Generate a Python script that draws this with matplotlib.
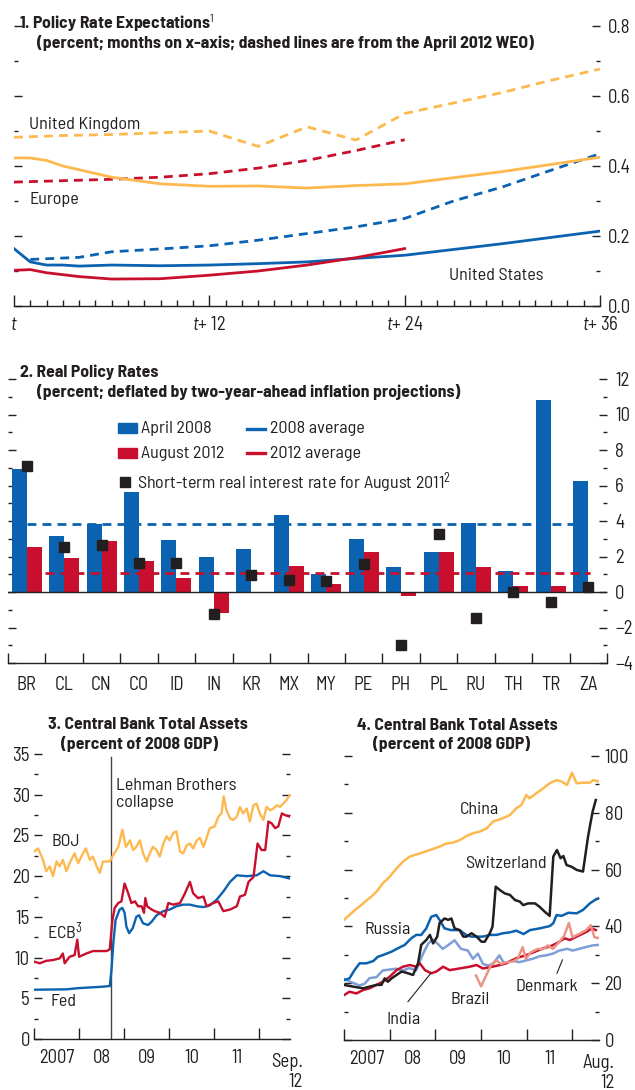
import matplotlib
matplotlib.use('Agg')
import matplotlib.pyplot as plt
import numpy as np
from matplotlib import font_manager as fm
from matplotlib.ticker import MultipleLocator, FixedLocator, NullFormatter, FormatStrFormatter
from matplotlib.patches import Rectangle
from matplotlib.lines import Line2D

_avail = {f.name for f in fm.fontManager.ttflist}
_prefs = ['Barlow Semi Condensed', 'Barlow Condensed', 'Encode Sans Semi Condensed', 'Liberation Sans Narrow']
FONT = next((p for p in _prefs if p in _avail), 'DejaVu Sans')
plt.rcParams['font.family'] = [FONT, 'DejaVu Sans']
plt.rcParams['mathtext.fontset'] = 'custom'
plt.rcParams['mathtext.rm'] = FONT
plt.rcParams['mathtext.it'] = FONT + ':italic'
plt.rcParams['mathtext.bf'] = FONT + ':bold'
plt.rcParams['axes.unicode_minus'] = True

# ---------------- colours ----------------
BLUE = '#0b62b0'
RED = '#c8102e'
ORANGE = '#fdb94f'
LBLUE = '#7e9ed8'
SALMON = '#eb9486'
BLACK = '#231f20'
TXT = '#231f20'

# ---------------- panel 1 data ----------------
uk_apr_m = [0, 3, 6, 9, 12, 15, 18, 21, 24, 27, 30, 33, 36]
uk_apr = [0.482, 0.487, 0.490, 0.495, 0.500, 0.456, 0.512, 0.474, 0.550, 0.580, 0.610, 0.645, 0.677]
uk_now_m = [0, 1, 2, 3, 6, 9, 12, 15, 18, 21, 24, 30, 36]
uk_now = [0.423, 0.423, 0.416, 0.400, 0.368, 0.349, 0.342, 0.343, 0.337, 0.344, 0.349, 0.384, 0.425]
eu_apr_m = [0, 3, 6, 9, 12, 15, 18, 21, 24]
eu_apr = [0.354, 0.358, 0.362, 0.368, 0.378, 0.394, 0.416, 0.444, 0.475]
eu_now_m = [0, 1, 2, 4, 6, 9, 12, 15, 18, 21, 24]
eu_now = [0.102, 0.104, 0.095, 0.084, 0.077, 0.078, 0.088, 0.100, 0.117, 0.138, 0.164]
us_apr_m = [1, 4, 6, 9, 12, 15, 18, 21, 24, 27, 30, 33, 36]
us_apr = [0.133, 0.139, 0.155, 0.163, 0.172, 0.188, 0.207, 0.226, 0.250, 0.300, 0.340, 0.388, 0.435]
us_now_m = [0, 1, 2, 3, 4, 6, 9, 12, 15, 18, 21, 24, 30, 36]
us_now = [0.164, 0.126, 0.117, 0.117, 0.114, 0.117, 0.115, 0.117, 0.121, 0.126, 0.136, 0.145, 0.178, 0.214]
p1_xticks = [0, 12, 24, 36]
p1_xlabels = ['$t$', '$t$+ 12', '$t$+ 24', '$t$+ 36']

# ---------------- panel 2 data ----------------
countries = ['BR', 'CL', 'CN', 'CO', 'ID', 'IN', 'KR', 'MX', 'MY', 'PE', 'PH', 'PL', 'RU', 'TH', 'TR', 'ZA']
apr2008 = [6.94, 3.17, 3.85, 5.65, 2.95, 1.99, 2.44, 4.35, 1.01, 3.00, 1.43, 2.27, 3.86, 1.20, 10.8, 6.27]
aug2012 = [2.55, 1.93, 2.89, 1.76, 0.81, -1.20, 0.0, 1.48, 0.47, 2.23, -0.25, 2.23, 1.43, 0.36, 0.36, 0.0]
aug2011 = [7.10, 2.55, 2.63, 1.61, 1.61, -1.22, 0.94, 0.69, 0.60, 1.58, -2.96, 3.25, -1.48, -0.02, -0.58, 0.26]
avg2008 = 3.83
avg2012 = 1.07

# ---------------- panel 3 data ----------------
boj_x = [2007.00, 2007.09, 2007.20, 2007.27, 2007.35, 2007.42, 2007.50, 2007.57, 2007.64, 2007.72,
         2007.79, 2007.90, 2007.98, 2008.05, 2008.15, 2008.24, 2008.31, 2008.39, 2008.46, 2008.53,
         2008.61, 2008.68, 2008.76, 2008.87, 2008.96, 2009.04, 2009.13, 2009.20, 2009.27, 2009.35,
         2009.42, 2009.50, 2009.57, 2009.64, 2009.72, 2009.79, 2009.87, 2009.94, 2010.01, 2010.09,
         2010.16, 2010.24, 2010.31, 2010.39, 2010.46, 2010.53, 2010.61, 2010.68, 2010.76, 2010.83,
         2010.90, 2011.01, 2011.09, 2011.16, 2011.21, 2011.27, 2011.35, 2011.42, 2011.50, 2011.57,
         2011.64, 2011.72, 2011.79, 2011.87, 2011.94, 2012.01, 2012.09, 2012.16, 2012.24, 2012.31,
         2012.39, 2012.46, 2012.53, 2012.61, 2012.68]
boj = [23.0, 23.4, 22.0, 20.6, 21.2, 20.0, 21.8, 21.2, 22.0, 20.6,
       21.6, 22.8, 21.6, 22.4, 23.4, 22.0, 22.4, 21.2, 20.4, 21.8,
       21.8, 21.8, 22.6, 23.6, 25.7, 23.6, 24.4, 23.2, 23.6, 24.4,
       22.8, 21.8, 22.8, 23.6, 23.2, 22.4, 24.0, 24.9, 24.4, 25.3,
       25.5, 23.0, 22.8, 23.8, 24.0, 23.4, 24.4, 24.7, 23.6, 24.7,
       25.9, 26.1, 27.3, 27.7, 29.8, 28.1, 27.1, 26.9, 27.3, 28.5,
       27.7, 28.3, 26.7, 28.7, 28.9, 27.7, 26.9, 28.5, 28.1, 28.3,
       28.7, 28.5, 28.9, 29.4, 30.0]
ecb_x = [2007.00, 2007.13, 2007.27, 2007.42, 2007.57, 2007.64, 2007.68, 2007.79, 2007.90, 2007.96,
         2008.00, 2008.16, 2008.31, 2008.46, 2008.61, 2008.68, 2008.74, 2008.79, 2008.87, 2008.94,
         2009.01, 2009.09, 2009.16, 2009.24, 2009.31, 2009.39, 2009.44, 2009.47, 2009.51, 2009.61,
         2009.68, 2009.79, 2009.90, 2009.98, 2010.09, 2010.24, 2010.35, 2010.46, 2010.53, 2010.64,
         2010.76, 2010.83, 2010.98, 2011.09, 2011.20, 2011.35, 2011.50, 2011.57, 2011.68, 2011.76,
         2011.87, 2011.96, 2012.05, 2012.13, 2012.20, 2012.27, 2012.35, 2012.42, 2012.50, 2012.57,
         2012.68]
ecb = [9.5, 9.3, 9.6, 9.7, 9.9, 10.5, 9.3, 10.1, 10.3, 12.2,
       10.1, 10.5, 10.8, 10.8, 10.8, 11.0, 14.6, 16.1, 16.7, 16.9,
       19.1, 17.9, 16.7, 16.9, 16.3, 16.3, 15.5, 17.3, 16.3, 15.9,
       15.7, 15.5, 15.0, 16.7, 16.5, 16.7, 17.9, 19.3, 17.9, 17.3,
       17.5, 16.3, 16.7, 16.9, 15.7, 15.9, 16.3, 17.5, 17.7, 19.3,
       19.9, 24.0, 23.2, 23.2, 26.7, 26.5, 25.9, 26.1, 27.7, 27.5,
       27.3]
fed_x = [2007.00, 2007.72, 2007.99, 2008.46, 2008.68, 2008.72, 2008.76, 2008.81, 2008.90, 2008.96,
         2009.01, 2009.05, 2009.11, 2009.19, 2009.27, 2009.33, 2009.42, 2009.53, 2009.61, 2009.72,
         2009.87, 2010.01, 2010.16, 2010.31, 2010.46, 2010.61, 2010.76, 2010.90, 2011.05, 2011.20,
         2011.35, 2011.50, 2011.72, 2011.94, 2012.09, 2012.24, 2012.46, 2012.68]
fed = [6.05, 6.1, 6.25, 6.4, 6.5, 8.5, 11.8, 14.6, 15.9, 16.1,
       15.5, 13.8, 13.0, 13.6, 15.0, 15.2, 14.2, 14.0, 14.4, 15.2,
       15.7, 15.9, 16.3, 16.5, 16.5, 16.3, 16.2, 16.4, 17.1, 18.1,
       19.3, 20.1, 20.0, 20.1, 20.6, 20.1, 20.0, 19.7]
lehman_date = 2008.70
p3_end = 2012.68

# ---------------- panel 4 data ----------------
china_x = [2007.00, 2007.20, 2007.42, 2007.64, 2007.74, 2007.85, 2008.00, 2008.15, 2008.29, 2008.44,
           2008.66, 2008.88, 2009.09, 2009.24, 2009.39, 2009.53, 2009.68, 2009.82, 2009.97, 2010.12,
           2010.26, 2010.48, 2010.63, 2010.77, 2010.88, 2010.99, 2011.06, 2011.21, 2011.36, 2011.50,
           2011.65, 2011.76, 2011.88, 2011.99, 2012.09, 2012.23, 2012.38, 2012.45, 2012.58]
china = [42.3, 45.2, 48.1, 51.1, 52.8, 55.2, 57.5, 60.4, 62.8, 64.6,
         65.7, 66.9, 68.1, 69.2, 69.5, 70.4, 71.8, 72.8, 73.4, 74.5,
         76.9, 78.1, 79.2, 81.6, 82.7, 86.3, 85.1, 86.9, 88.6, 90.4,
         91.5, 91.0, 89.8, 94.1, 90.4, 90.6, 90.6, 91.5, 91.0]
swiss_x = [2007.00, 2007.20, 2007.42, 2007.56, 2007.71, 2007.82, 2007.89, 2007.96, 2008.04, 2008.15,
           2008.26, 2008.36, 2008.51, 2008.62, 2008.69, 2008.80, 2008.88, 2008.95, 2009.04, 2009.09,
           2009.20, 2009.28, 2009.35, 2009.42, 2009.53, 2009.61, 2009.68, 2009.79, 2009.90, 2010.01,
           2010.08, 2010.19, 2010.25, 2010.32, 2010.41, 2010.52, 2010.63, 2010.74, 2010.85, 2010.92,
           2011.03, 2011.18, 2011.28, 2011.39, 2011.50, 2011.58, 2011.66, 2011.74, 2011.80, 2011.87,
           2011.98, 2012.09, 2012.23, 2012.34, 2012.44, 2012.51]
swiss = [19.4, 18.8, 18.2, 18.8, 19.4, 19.4, 21.7, 20.5, 21.7, 22.9,
         24.1, 23.7, 22.9, 27.0, 33.5, 35.2, 37.0, 34.0, 36.4, 41.1,
         42.8, 42.3, 42.8, 39.3, 38.7, 36.4, 36.4, 37.6, 36.4, 34.6,
         34.6, 37.6, 39.9, 54.0, 52.8, 51.6, 51.1, 49.3, 48.7, 47.5,
         48.1, 48.1, 46.9, 45.2, 43.7, 64.6, 66.9, 64.0, 64.8, 61.6,
         61.0, 59.9, 59.3, 71.6, 80.4, 84.5]
russia_x = [2007.00, 2007.12, 2007.23, 2007.34, 2007.49, 2007.64, 2007.74, 2007.85, 2008.04, 2008.18,
            2008.33, 2008.47, 2008.58, 2008.69, 2008.80, 2008.91, 2009.02, 2009.09, 2009.20, 2009.34,
            2009.53, 2009.67, 2009.78, 2009.90, 2010.04, 2010.19, 2010.34, 2010.48, 2010.63, 2010.77,
            2010.93, 2011.07, 2011.28, 2011.50, 2011.58, 2011.65, 2011.76, 2011.91, 2012.09, 2012.23,
            2012.38, 2012.49, 2012.58]
russia = [21.1, 21.7, 24.6, 27.0, 27.0, 27.8, 29.3, 29.9, 31.1, 32.3,
          33.5, 35.8, 37.0, 37.0, 39.3, 43.4, 44.0, 42.3, 39.3, 38.7,
          38.7, 37.0, 36.4, 36.4, 36.4, 37.0, 37.0, 37.6, 37.9, 38.5,
          37.3, 38.7, 39.3, 40.1, 41.1, 44.0, 43.7, 44.8, 44.6, 45.8,
          48.1, 49.3, 49.9]
india_x = [2007.00, 2007.12, 2007.27, 2007.42, 2007.56, 2007.71, 2007.85, 2008.00, 2008.15, 2008.29,
           2008.44, 2008.58, 2008.66, 2008.77, 2008.91, 2009.02, 2009.17, 2009.31, 2009.53, 2009.75,
           2009.90, 2010.04, 2010.19, 2010.41, 2010.55, 2010.77, 2010.99, 2011.18, 2011.36, 2011.50,
           2011.65, 2011.83, 2011.94, 2012.09, 2012.31, 2012.42, 2012.51]
india = [15.8, 17.0, 16.4, 17.6, 18.2, 19.4, 20.5, 22.3, 24.6, 25.8,
         26.4, 25.8, 27.0, 24.6, 23.5, 24.1, 25.8, 24.6, 25.2, 25.8,
         26.4, 25.2, 25.6, 26.4, 27.0, 28.8, 29.9, 31.1, 32.3, 32.9,
         34.0, 35.8, 35.2, 36.4, 38.1, 39.3, 38.7]
brazil_x = [2009.89, 2010.00, 2010.11, 2010.22, 2010.33, 2010.44, 2010.55, 2010.69, 2010.80, 2010.91,
            2010.98, 2011.09, 2011.24, 2011.35, 2011.46, 2011.57, 2011.71, 2011.82, 2011.92, 2012.00,
            2012.15, 2012.29, 2012.40, 2012.48, 2012.57]
brazil = [22.7, 18.9, 22.7, 26.5, 28.0, 26.8, 27.4, 27.6, 28.6, 32.7,
          28.6, 30.9, 32.1, 31.9, 33.3, 32.1, 34.5, 36.8, 41.2, 36.2,
          37.4, 38.6, 40.4, 36.2, 35.9]
denmark_x = [2007.00, 2007.20, 2007.34, 2007.45, 2007.56, 2007.71, 2007.85, 2008.00, 2008.14, 2008.29,
             2008.43, 2008.58, 2008.73, 2008.84, 2008.94, 2009.05, 2009.16, 2009.27, 2009.42, 2009.56,
             2009.71, 2009.82, 2009.93, 2010.04, 2010.15, 2010.26, 2010.40, 2010.51, 2010.66, 2010.84,
             2010.98, 2011.13, 2011.28, 2011.42, 2011.57, 2011.71, 2011.89, 2012.00, 2012.15, 2012.29,
             2012.44, 2012.57]
denmark = [21.5, 20.1, 19.2, 19.8, 21.8, 22.1, 24.5, 24.8, 25.1, 24.5,
           25.3, 24.5, 30.4, 33.9, 35.4, 33.9, 32.1, 33.3, 35.1, 32.1,
           31.5, 28.6, 30.4, 26.8, 26.2, 26.8, 29.8, 26.8, 28.0, 27.4,
           28.0, 28.6, 29.5, 29.8, 30.4, 31.5, 32.1, 31.5, 32.1, 32.7,
           33.3, 33.5]
p4_end = 2012.58

year_ticks = [2007, 2008, 2009, 2010, 2011, 2012]
year_mid = [2007.5, 2008.5, 2009.5, 2010.5, 2011.5]
year_labels = ['2007', '08', '09', '10', '11']

# ---------------- figure ----------------
W, H = 635, 1090
fig = plt.figure(figsize=(W / 100, H / 100), dpi=100)


def axes_px(l, r, t, b):
    return fig.add_axes([l / W, 1 - b / H, (r - l) / W, (b - t) / H])


FS = 13
TKS = 13.5
TFS = 12.7

def style_common(ax):
    for s in ['left', 'right', 'top']:
        ax.spines[s].set_visible(False)
    ax.spines['bottom'].set_linewidth(1.0)
    ax.spines['bottom'].set_color(TXT)
    ax.tick_params(axis='both', which='both', direction='in', color=TXT, width=1.0,
                   labelsize=TKS, labelcolor=TXT)
    ax.set_facecolor('none')


DASH = (0, (3.2, 2.2))

# ============ Panel 1 ============
ax1 = axes_px(14, 600, 26, 306)
style_common(ax1)
ax1.set_xlim(0, 36)
ax1.set_ylim(0, 0.8)
ax1.plot(uk_apr_m, uk_apr, color=ORANGE, lw=2.0, ls=DASH)
ax1.plot(eu_apr_m, eu_apr, color=RED, lw=2.0, ls=DASH)
ax1.plot(us_apr_m, us_apr, color=BLUE, lw=2.0, ls=DASH)
ax1.plot(uk_now_m, uk_now, color=ORANGE, lw=2.0)
ax1.plot(us_now_m, us_now, color=BLUE, lw=2.0)
ax1.plot(eu_now_m, eu_now, color=RED, lw=2.0)
ax1.xaxis.set_major_locator(FixedLocator(p1_xticks))
ax1.set_xticklabels(p1_xlabels)
ax1.xaxis.set_minor_locator(MultipleLocator(1))
ax1.yaxis.set_major_locator(MultipleLocator(0.2))
ax1.yaxis.set_minor_locator(MultipleLocator(0.1))
ax1.yaxis.set_major_formatter(FormatStrFormatter('%.1f'))
ax1.tick_params(axis='x', which='major', length=8, pad=7)
ax1.tick_params(axis='x', which='minor', length=4)
ax1.tick_params(axis='y', which='both', left=True, right=True, labelleft=False, labelright=True, pad=6)
ax1.tick_params(axis='y', which='major', length=6)
ax1.tick_params(axis='y', which='minor', length=3)
ax1.text(0.95, 0.52, 'United Kingdom', fontsize=FS, color=TXT, va='center', ha='left')
ax1.text(0.95, 0.304, 'Europe', fontsize=FS, color=TXT, va='center', ha='left')
ax1.text(26.75, 0.088, 'United States', fontsize=FS, color=TXT, va='center', ha='left')
ax1.text(0.008, 1.01, '1. Policy Rate Expectations$^{1}$', transform=ax1.transAxes,
         fontsize=TFS, fontweight='bold', color=TXT, va='center', ha='left')
ax1.text(0.039, 0.94, '(percent; months on x-axis; dashed lines are from the April 2012 WEO)',
         transform=ax1.transAxes, fontsize=TFS, fontweight='bold', color=TXT, va='center', ha='left')

# ============ Panel 2 ============
ax2 = axes_px(8, 607, 379, 663)
style_common(ax2)
n = len(countries)
xpos = np.arange(n)
ax2.set_xlim(-0.5, n - 0.5)
ax2.set_ylim(-4, 12)
ax2.bar(xpos - 0.2, apr2008, width=0.4, color=BLUE, zorder=2)
ax2.bar(xpos + 0.2, aug2012, width=0.4, color=RED, zorder=2)
ax2.axhline(0, color=TXT, lw=1.0, zorder=2.5)
ax2.hlines(avg2008, -0.4, 14.6, colors=BLUE, lw=2.0, linestyles=DASH, zorder=3)
ax2.hlines(avg2012, 0.48, 15.04, colors=RED, lw=2.0, linestyles=DASH, zorder=3)
ax2.plot(xpos, aug2011, ls='none', marker='s', ms=7.5, color=BLACK, zorder=4)
ax2.xaxis.set_major_locator(FixedLocator(xpos))
ax2.set_xticklabels(countries)
ax2.xaxis.set_minor_locator(FixedLocator(np.arange(n + 1) - 0.5))
ax2.tick_params(axis='x', which='major', length=0, pad=9)
ax2.tick_params(axis='x', which='minor', length=7)
ax2.yaxis.set_major_locator(MultipleLocator(2))
ax2.yaxis.set_minor_locator(MultipleLocator(1))
ax2.tick_params(axis='y', which='both', left=True, right=True, labelleft=False, labelright=True, pad=6)
ax2.tick_params(axis='y', which='major', length=6)
ax2.tick_params(axis='y', which='minor', length=3)
ax2.text(0.02, 1.025, '2. Real Policy Rates', transform=ax2.transAxes,
         fontsize=TFS, fontweight='bold', color=TXT, va='center', ha='left')
ax2.text(0.048, 0.954, '(percent; deflated by two-year-ahead inflation projections)',
         transform=ax2.transAxes, fontsize=TFS, fontweight='bold', color=TXT, va='center', ha='left')
# legend
ax2.add_patch(Rectangle((0.184, 0.827 - 0.018), 0.031, 0.036, transform=ax2.transAxes,
                        color=BLUE, clip_on=False))
ax2.add_patch(Rectangle((0.184, 0.739 - 0.018), 0.031, 0.036, transform=ax2.transAxes,
                        color=RED, clip_on=False))
ax2.text(0.222, 0.827, 'April 2008', transform=ax2.transAxes, fontsize=FS, color=TXT, va='center')
ax2.text(0.222, 0.739, 'August 2012', transform=ax2.transAxes, fontsize=FS, color=TXT, va='center')
ax2.add_line(Line2D([0.399, 0.429], [0.824, 0.824], transform=ax2.transAxes, color=BLUE, lw=2.4))
ax2.add_line(Line2D([0.399, 0.429], [0.739, 0.739], transform=ax2.transAxes, color=RED, lw=2.4))
ax2.text(0.437, 0.824, '2008 average', transform=ax2.transAxes, fontsize=FS, color=TXT, va='center')
ax2.text(0.437, 0.739, '2012 average', transform=ax2.transAxes, fontsize=FS, color=TXT, va='center')
ax2.plot([0.195], [0.637], transform=ax2.transAxes, marker='s', ms=7.5, color=BLACK, ls='none')
ax2.text(0.215, 0.637, 'Short-term real interest rate for August 2011$^{2}$', transform=ax2.transAxes,
         fontsize=FS, color=TXT, va='center')

# ============ Panel 3 ============
ax3 = axes_px(34, 290, 754, 1039)
style_common(ax3)
ax3.set_xlim(2007.0, p3_end)
ax3.set_ylim(0, 35)
ax3.axvline(lehman_date, ymax=34.6 / 35, color='#444444', lw=1.0, zorder=1)
ax3.plot(boj_x, boj, color=ORANGE, lw=1.7)
ax3.plot(fed_x, fed, color=BLUE, lw=1.7)
ax3.plot(ecb_x, ecb, color=RED, lw=1.7)
ax3.xaxis.set_major_locator(FixedLocator(year_ticks))
ax3.xaxis.set_major_formatter(NullFormatter())
ax3.xaxis.set_minor_locator(FixedLocator(year_mid))
ax3.set_xticklabels(year_labels, minor=True)
ax3.tick_params(axis='x', which='major', length=8)
ax3.tick_params(axis='x', which='minor', length=0, pad=7)
ax3.yaxis.set_major_locator(MultipleLocator(5))
ax3.yaxis.set_minor_locator(MultipleLocator(2.5))
ax3.tick_params(axis='y', which='both', left=True, right=True, labelleft=True, labelright=False, pad=3)
ax3.tick_params(axis='y', which='major', length=6)
ax3.tick_params(axis='y', which='minor', length=3)
ax3.text(1.05, -0.048, 'Sep.\n12', transform=ax3.transAxes, fontsize=TKS, color=TXT,
         ha='right', va='top', multialignment='right', linespacing=1.15)
ax3.text(2007.70, 24.2, 'BOJ', fontsize=FS, color=TXT, ha='center', va='center')
ax3.text(2007.68, 13.3, 'ECB$^{3}$', fontsize=FS, color=TXT, ha='center', va='center')
ax3.text(2007.66, 4.6, 'Fed', fontsize=FS, color=TXT, ha='center', va='center')
ax3.text(2008.83, 32.0, 'Lehman Brothers\ncollapse', fontsize=FS, color=TXT, ha='left', va='top',
         linespacing=1.1)
ax3.text(0.055, 1.102, '3. Central Bank Total Assets', transform=ax3.transAxes,
         fontsize=TFS, fontweight='bold', color=TXT, va='center', ha='left')
ax3.text(0.105, 1.035, '(percent of 2008 GDP)', transform=ax3.transAxes,
         fontsize=TFS, fontweight='bold', color=TXT, va='center', ha='left')

# ============ Panel 4 ============
ax4 = axes_px(344, 599, 756, 1040)
style_common(ax4)
ax4.set_xlim(2007.0, p4_end)
ax4.set_ylim(0, 100)
ax4.plot(china_x, china, color=ORANGE, lw=1.8)
ax4.plot(denmark_x, denmark, color=LBLUE, lw=1.8)
ax4.plot(india_x, india, color=RED, lw=1.8)
ax4.plot(brazil_x, brazil, color=SALMON, lw=1.8)
ax4.plot(russia_x, russia, color=BLUE, lw=1.8)
ax4.plot(swiss_x, swiss, color=BLACK, lw=1.8)
ax4.xaxis.set_major_locator(FixedLocator(year_ticks))
ax4.xaxis.set_major_formatter(NullFormatter())
ax4.xaxis.set_minor_locator(FixedLocator(year_mid))
ax4.set_xticklabels(year_labels, minor=True)
ax4.tick_params(axis='x', which='major', length=8)
ax4.tick_params(axis='x', which='minor', length=0, pad=7)
ax4.yaxis.set_major_locator(MultipleLocator(20))
ax4.yaxis.set_minor_locator(MultipleLocator(10))
ax4.tick_params(axis='y', which='both', left=True, right=True, labelleft=False, labelright=True, pad=4)
ax4.tick_params(axis='y', which='major', length=6)
ax4.tick_params(axis='y', which='minor', length=3)
ax4.text(1.06, -0.048, 'Aug.\n12', transform=ax4.transAxes, fontsize=TKS, color=TXT,
         ha='right', va='top', multialignment='right', linespacing=1.15)
ax4.text(2009.96, 81.0, 'China', fontsize=FS, color=TXT, ha='center', va='center')
ax4.text(2010.55, 62.2, 'Switzerland', fontsize=FS, color=TXT, ha='center', va='center')
ax4.text(2007.96, 39.0, 'Russia', fontsize=FS, color=TXT, ha='center', va='center')
ax4.text(2009.77, 14.3, 'Brazil', fontsize=FS, color=TXT, ha='center', va='center')
ax4.text(2008.31, 7.3, 'India', fontsize=FS, color=TXT, ha='center', va='center')
ax4.text(2011.43, 18.8, 'Denmark', fontsize=FS, color=TXT, ha='center', va='center')
ax4.plot([2008.40, 2008.90], [13.5, 23.5], color=TXT, lw=0.8)
ax4.plot([2011.66, 2011.78], [23.5, 28.2], color=TXT, lw=0.8)
ax4.text(0.051, 1.109, '4. Central Bank Total Assets', transform=ax4.transAxes,
         fontsize=TFS, fontweight='bold', color=TXT, va='center', ha='left')
ax4.text(0.114, 1.042, '(percent of 2008 GDP)', transform=ax4.transAxes,
         fontsize=TFS, fontweight='bold', color=TXT, va='center', ha='left')

fig.savefig('out.png', dpi=100)
